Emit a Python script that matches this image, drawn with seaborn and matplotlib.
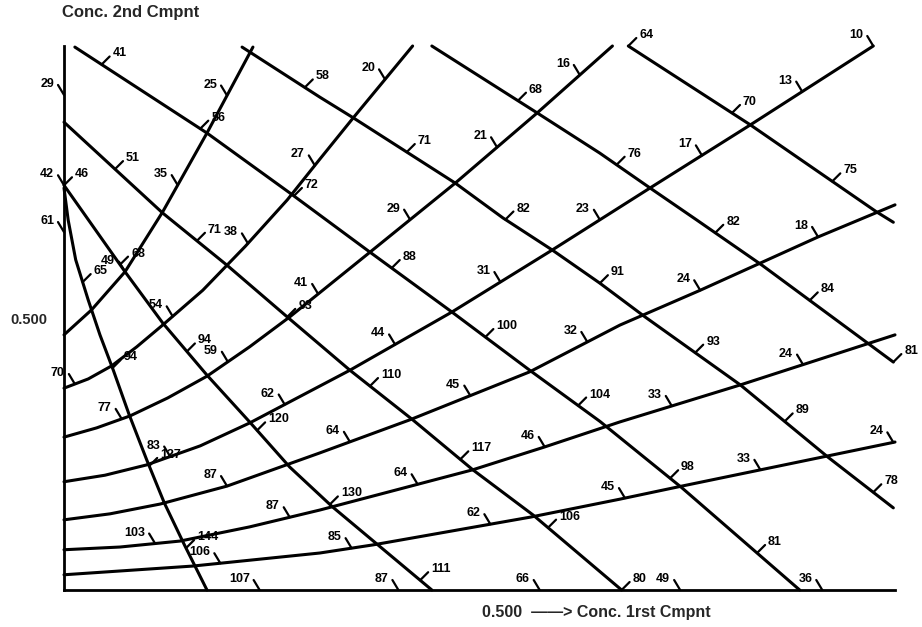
import numpy as np
import pandas as pd
import matplotlib
matplotlib.use("Agg")
import matplotlib.pyplot as plt
import seaborn as sns

sns.set_theme(style="white")
plt.rcParams["font.family"] = ["Liberation Sans", "DejaVu Sans"]
plt.rcParams["font.weight"] = "bold"

# ---- iso-property curves in the (conc. 1st cmpnt, conc. 2nd cmpnt) plane ----
# rising family (labels on the upper-left side)
r1_x = [0.000, 0.154, 0.306, 0.370, 0.558, 0.665, 0.739, 0.994]
r1_y = [0.028, 0.044, 0.068, 0.083, 0.134, 0.167, 0.191, 0.272]
r1_at = [0.187, 0.344, 0.510, 0.671, 0.833, 0.992]
r1_val = [106, 85, 62, 45, 33, 24]

r2_x = [0.000, 0.067, 0.139, 0.222, 0.306, 0.489, 0.575, 0.665, 0.809, 0.994]
r2_y = [0.074, 0.079, 0.090, 0.116, 0.147, 0.221, 0.263, 0.309, 0.377, 0.469]
r2_at = [0.109, 0.270, 0.423, 0.575, 0.727, 0.884]
r2_val = [103, 87, 64, 46, 33, 24]

r3_x = [0.000, 0.055, 0.115, 0.195, 0.306, 0.414, 0.557, 0.665, 0.761, 0.902, 0.994]
r3_y = [0.129, 0.140, 0.158, 0.191, 0.252, 0.313, 0.401, 0.487, 0.551, 0.649, 0.708]
r3_at = [0.195, 0.342, 0.486, 0.626, 0.761, 0.902]
r3_val = [87, 64, 45, 32, 24, 18]

r4_x = [0.000, 0.049, 0.099, 0.163, 0.222, 0.342, 0.464, 0.584, 0.701, 0.821, 0.968]
r4_y = [0.199, 0.211, 0.230, 0.265, 0.307, 0.404, 0.511, 0.625, 0.739, 0.855, 1.000]
r4_at = [0.127, 0.264, 0.396, 0.522, 0.641, 0.763, 0.883, 0.968]
r4_val = [83, 62, 44, 31, 23, 17, 13, 10]

r5_x = [0.000, 0.039, 0.079, 0.124, 0.171, 0.222, 0.270, 0.366, 0.468, 0.566, 0.656]
r5_y = [0.281, 0.298, 0.320, 0.353, 0.393, 0.447, 0.502, 0.621, 0.748, 0.877, 1.000]
r5_at = [0.069, 0.196, 0.304, 0.414, 0.518, 0.617]
r5_val = [77, 59, 41, 29, 21, 16]

r6_x = [0.000, 0.029, 0.057, 0.087, 0.118, 0.166, 0.217, 0.267, 0.306, 0.346, 0.417]
r6_y = [0.371, 0.388, 0.412, 0.447, 0.487, 0.551, 0.632, 0.717, 0.792, 0.868, 1.000]
r6_at = [0.013, 0.130, 0.220, 0.300, 0.384]
r6_val = [70, 54, 38, 27, 20]

r7_x = [0.000, 0.033, 0.073, 0.118, 0.171, 0.226]
r7_y = [0.469, 0.515, 0.585, 0.695, 0.840, 0.998]
r7_at = [0.073, 0.136, 0.195]
r7_val = [49, 35, 25]

# values marked along the two axes
bottom_at = [0.234, 0.400, 0.569, 0.737, 0.907]
bottom_val = [107, 87, 66, 49, 36]
left_at = [0.910, 0.744, 0.658]
left_val = [29, 42, 61]

# descending family (labels on the upper-right side)
d1_x = [0.013, 0.171, 0.270, 0.366, 0.464, 0.557, 0.641, 0.739, 0.880]
d1_y = [0.998, 0.840, 0.730, 0.621, 0.511, 0.404, 0.310, 0.188, 0.000]
d1_at = [0.045, 0.163, 0.275, 0.392, 0.504, 0.615, 0.725, 0.829]
d1_val = [41, 56, 72, 88, 100, 104, 98, 81]

d2_x = [0.213, 0.306, 0.346, 0.468, 0.525, 0.584, 0.641, 0.695, 0.809, 0.914, 0.992]
d2_y = [0.998, 0.906, 0.868, 0.748, 0.684, 0.625, 0.564, 0.502, 0.377, 0.244, 0.151]
d2_at = [0.288, 0.410, 0.528, 0.641, 0.755, 0.862, 0.968]
d2_val = [58, 71, 82, 91, 93, 89, 78]

d3_x = [0.440, 0.566, 0.641, 0.701, 0.757, 0.835, 0.992]
d3_y = [1.000, 0.877, 0.803, 0.739, 0.680, 0.597, 0.419]
d3_at = [0.543, 0.661, 0.779, 0.892, 0.992]
d3_val = [68, 76, 82, 84, 81]

d4_x = [0.675, 0.821, 0.972, 0.992]
d4_y = [1.000, 0.855, 0.695, 0.676]
d4_at = [0.675, 0.799, 0.919]
d4_val = [64, 70, 75]

d5_x = [0.000, 0.118, 0.195, 0.267, 0.342, 0.417, 0.489, 0.561, 0.667]
d5_y = [0.860, 0.693, 0.597, 0.502, 0.404, 0.313, 0.221, 0.138, 0.000]
d5_at = [0.061, 0.159, 0.267, 0.366, 0.474, 0.579, 0.667]
d5_val = [51, 71, 93, 110, 117, 106, 80]

d6_x = [0.000, 0.073, 0.118, 0.171, 0.222, 0.270, 0.321, 0.440]
d6_y = [0.744, 0.585, 0.491, 0.395, 0.309, 0.226, 0.153, 0.000]
d6_at = [0.000, 0.067, 0.147, 0.231, 0.318, 0.426]
d6_val = [46, 68, 94, 120, 130, 111]

# steep curve near the 2nd-component axis (positions given along y)
s1_x = [0.000, 0.005, 0.014, 0.029, 0.043, 0.059, 0.078, 0.099, 0.120, 0.144, 0.171]
s1_y = [0.739, 0.680, 0.607, 0.533, 0.469, 0.404, 0.322, 0.239, 0.160, 0.083, 0.000]
s1_at = [0.566, 0.408, 0.228, 0.077]
s1_val = [65, 94, 127, 144]

rising = [(r1_x, r1_y, r1_at, r1_val), (r2_x, r2_y, r2_at, r2_val),
          (r3_x, r3_y, r3_at, r3_val), (r4_x, r4_y, r4_at, r4_val),
          (r5_x, r5_y, r5_at, r5_val), (r6_x, r6_y, r6_at, r6_val),
          (r7_x, r7_y, r7_at, r7_val)]
falling = [(d1_x, d1_y, d1_at, d1_val), (d2_x, d2_y, d2_at, d2_val),
           (d3_x, d3_y, d3_at, d3_val), (d4_x, d4_y, d4_at, d4_val),
           (d5_x, d5_y, d5_at, d5_val), (d6_x, d6_y, d6_at, d6_val)]

frames = []
for i, (cx, cy, _, _) in enumerate(rising + falling + [(s1_x, s1_y, None, None)]):
    frames.append(pd.DataFrame({"x": cx, "y": cy, "curve": i}))
df = pd.concat(frames, ignore_index=True)

W, H = 922, 627
fig = plt.figure(figsize=(W / 100, H / 100), dpi=100)
ax = fig.add_axes([64 / W, 37 / H, 831 / W, 544 / H])

sns.lineplot(data=df, x="x", y="y", units="curve", estimator=None, sort=False,
             color="black", linewidth=2.2, legend=False, ax=ax)
for ln in ax.lines:
    ln.set_clip_on(False)
    ln.set_solid_joinstyle("round")

ax.set_xlim(0, 0.994)
ax.set_ylim(0, 1.0)
sns.despine(ax=ax)
for side in ("left", "bottom"):
    ax.spines[side].set_linewidth(2.0)
    ax.spines[side].set_color("black")
ax.set_xlabel("")
ax.set_ylabel("")
ax.set_xticks([0.5])
ax.set_xticklabels([""])
ax.tick_params(axis="x", direction="in", length=6, width=1.6, color="black")
ax.set_yticks([0.5])
ax.set_yticklabels(["0.500"], fontsize=10.5, fontweight="bold")
ax.tick_params(axis="y", direction="out", length=11, width=1.6, color="black", pad=1)

LAB = dict(fontsize=9, fontweight="bold", color="black", annotation_clip=False)
TICK = dict(arrowstyle="-", lw=1.6, color="black", shrinkA=0, shrinkB=0)


def mark(x, y, val, side):
    if side == "A":
        tip, txt, ha = (-6, 10), (-10, 11), "right"
    else:
        tip, txt, ha = (8, 8), (11, 11), "left"
    ax.annotate("", xy=(x, y), xytext=tip, textcoords="offset pixels",
                arrowprops=TICK, annotation_clip=False)
    ax.annotate(str(val), xy=(x, y), xytext=txt, textcoords="offset pixels",
                ha=ha, va="center", **LAB)


for cx, cy, at, vals in rising:
    for a, v in zip(at, vals):
        mark(a, np.interp(a, cx, cy), v, "A")
for cx, cy, at, vals in falling:
    for a, v in zip(at, vals):
        mark(a, np.interp(a, cx, cy), v, "B")
for a, v in zip(s1_at, s1_val):
    mark(np.interp(a, s1_y[::-1], s1_x[::-1]), a, v, "B")
for a, v in zip(bottom_at, bottom_val):
    mark(a, 0.0, v, "A")
for a, v in zip(left_at, left_val):
    mark(0.0, a, v, "A")

fig.text(62 / W, 1 - 13 / H, "Conc. 2nd Cmpnt", fontsize=12, fontweight="bold",
         ha="left", va="center")
fig.text(482 / W, 1 - 613 / H, "0.500  \u2014\u2014> Conc. 1rst Cmpnt", fontsize=11.5,
         fontweight="bold", ha="left", va="center")

fig.savefig("out.png", dpi=100, facecolor="white")
